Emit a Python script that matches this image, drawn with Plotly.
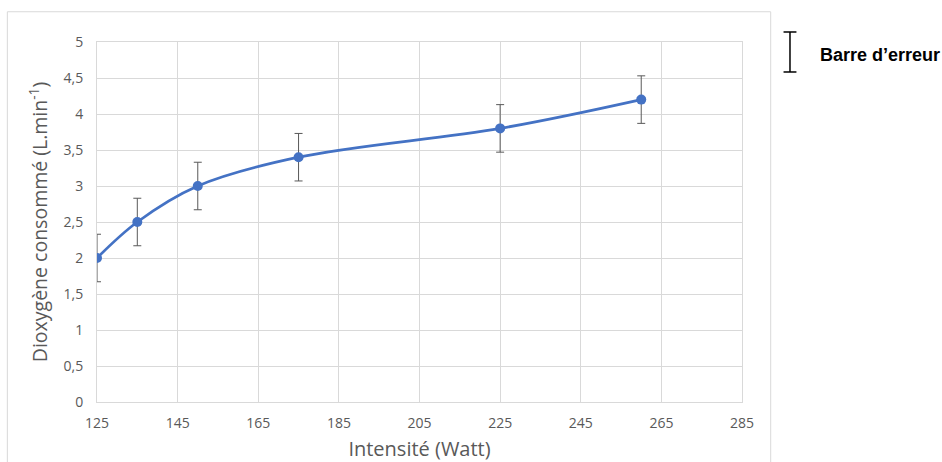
import plotly.graph_objects as go

intensite = [125, 135, 150, 175, 225, 260]
dioxygene = [2.0, 2.5, 3.0, 3.4, 3.8, 4.2]
erreur = [0.33, 0.33, 0.33, 0.33, 0.33, 0.33]
x_ticks = [125, 145, 165, 185, 205, 225, 245, 265, 285]
y_ticks = [0, 0.5, 1, 1.5, 2, 2.5, 3, 3.5, 4, 4.5, 5]

blue = "#4472C4"
grey_txt = "#595959"
grid = "#d9d9d9"

fig = go.Figure()
fig.add_trace(go.Scatter(
    x=intensite, y=dioxygene,
    mode="lines+markers",
    line=dict(color=blue, width=2.75, shape="spline", smoothing=1.0),
    marker=dict(color=blue, size=10),
    error_y=dict(type="data", array=erreur, visible=True, color="#595959", thickness=1, width=4),
    showlegend=False,
))

fig.update_layout(
    width=942, height=462,
    margin=dict(l=97, r=200, t=42, b=60),
    paper_bgcolor="white", plot_bgcolor="white",
    separators=", ",
    font=dict(family="Open Sans, Liberation Sans, sans-serif", color=grey_txt, size=14),
    xaxis=dict(
        range=[125, 285], tickmode="array", tickvals=x_ticks,
        showgrid=True, gridcolor=grid, gridwidth=1,
        showline=True, linecolor=grid, linewidth=1, mirror=True,
        zeroline=False, ticks="", ticklabelstandoff=8, automargin=False,
        tickfont=dict(size=14, color=grey_txt),
        title=dict(text="Intensité (Watt)", font=dict(size=20, color=grey_txt), standoff=17),
    ),
    yaxis=dict(
        range=[0, 5], tickmode="array", tickvals=y_ticks,
        showgrid=True, gridcolor=grid, gridwidth=1,
        showline=True, linecolor=grid, linewidth=1, mirror=True,
        zeroline=False, ticks="", ticklabelstandoff=10, automargin=False,
        tickfont=dict(size=14, color=grey_txt),
        title=dict(text="Dioxygène consommé (L.min<sup>-1</sup>)", font=dict(size=19.5, color=grey_txt), standoff=10),
    ),
    shapes=[
        # outer chart frame
        dict(type="rect", xref="paper", yref="paper", x0=-0.139, x1=1.0445, y0=-0.3, y1=1.084,
             line=dict(color="#d9d9d9", width=1), fillcolor="rgba(0,0,0,0)", layer="below"),
        # legend error bar icon
        dict(type="line", xref="paper", yref="paper", x0=1.0744, x1=1.0744, y0=0.9167, y1=1.0278,
             line=dict(color="black", width=1.5)),
        dict(type="line", xref="paper", yref="paper", x0=1.0644, x1=1.0844, y0=1.0278, y1=1.0278,
             line=dict(color="black", width=1.5)),
        dict(type="line", xref="paper", yref="paper", x0=1.0644, x1=1.0844, y0=0.9167, y1=0.9167,
             line=dict(color="black", width=1.5)),
    ],
    annotations=[
        dict(text="<b>Barre d’erreur</b>", xref="paper", yref="paper", x=1.1178, y=0.964,
             xanchor="left", yanchor="middle", showarrow=False,
             font=dict(family="Liberation Sans, Arial, sans-serif", size=18, color="black")),
    ],
)

fig.write_html("out.html", config={"displayModeBar": False},
               post_script="document.body.style.margin='0';")
